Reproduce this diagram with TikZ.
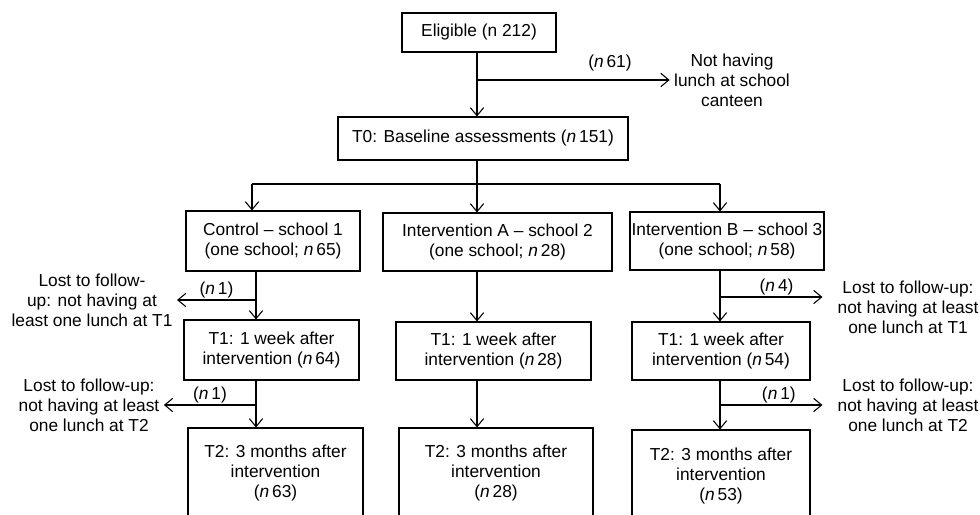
\documentclass[tikz,border=0pt]{standalone}
\usepackage{fontspec}
\setmainfont{Liberation Sans}
\usetikzlibrary{arrows.meta}
\tikzset{
  stage/.style={draw, align=center, inner sep=0pt},
  lost/.style={align=center, inner sep=3pt},
  nlab/.style={inner sep=1pt, above},
  right lost/.style={->, shorten >=8pt}
}
\newcommand{\nval}[1]{(\textit{n}\,#1)}

\begin{document}
\begin{tikzpicture}[x=0.75pt, y=-0.75pt, line width=0.8pt,
  >={Straight Barb[length=6pt,width=10pt]},
  font=\fontsize{13}{15}\selectfont]
\clip (0,0) rectangle (980,514);

\node[stage, minimum width=115.5pt, minimum height=29.25pt] (elig) at (479,32.5) {Eligible (n 212)};
\node[stage, minimum width=217.5pt, minimum height=32.25pt] (t0) at (483,138.5) {T0: Baseline assessments \nval{151}};
\node[lost] (nolunch) at (732,80) {Not having\\lunch at school\\canteen};

\node[stage, minimum width=130.5pt, minimum height=45pt] (ctrl) at (273,241) {Control -- school 1\\(one school; \textit{n}\,65)};
\node[stage, minimum width=171.75pt, minimum height=43.5pt] (intA) at (497.5,242) {Intervention A -- school 2\\(one school; \textit{n}\,28)};
\node[stage, minimum width=145.5pt, minimum height=43.5pt] (intB) at (727,241) {Intervention B -- school 3\\(one school; \textit{n}\,58)};

\node[stage, minimum width=131.25pt, minimum height=45pt] (ctrl1) at (271.5,350) {T1: 1 week after\\intervention \nval{64}};
\node[stage, minimum width=146.25pt, minimum height=43.5pt] (intA1) at (493.5,351) {T1: 1 week after\\intervention \nval{28}};
\node[stage, minimum width=133.5pt, minimum height=43.5pt] (intB1) at (721,351) {T1: 1 week after\\intervention \nval{54}};

\node[stage, minimum width=131.25pt, minimum height=67.5pt] (ctrl2) at (275.5,473) {T2: 3 months after\\intervention\\\nval{63}};
\node[stage, minimum width=145.5pt, minimum height=67.5pt] (intA2) at (496,473) {T2: 3 months after\\intervention\\\nval{28}};
\node[stage, minimum width=133.5pt, minimum height=69pt] (intB2) at (721,476) {T2: 3 months after\\intervention\\\nval{53}};

\node[lost] (lostC1) at (92,300) {Lost to follow-\\up: not having at\\least one lunch at T1};
\node[lost] (lostC2) at (89,405) {Lost to follow-up:\\not having at least\\one lunch at T2};
\node[lost] (lostB1) at (908,307) {Lost to follow-up:\\not having at least\\one lunch at T1};
\node[lost] (lostB2) at (908,405) {Lost to follow-up:\\not having at least\\one lunch at T2};

\coordinate (c0) at (477,0);
\coordinate (c1) at (252,0);
\coordinate (c1b) at (256,0);
\coordinate (c3) at (720,0);
\coordinate (fork) at (0,184);
\coordinate (splitB) at (720,297);

\draw [->] (elig.south -| c0) -- (t0.north -| c0);
\draw [->] (c0 |- nolunch) -- (nolunch) node[nlab, pos=0.69, yshift=5pt] {\nval{61}};

\draw (t0.south -| c0) -- (c0 |- fork);
\draw (c1 |- fork) -- (c3 |- fork);
\draw [->] (c1 |- fork) -- (ctrl.north -| c1);
\draw [->] (c0 |- fork) -- (intA.north -| c0);
\draw [->] (c3 |- fork) -- (intB.north -| c3);

\draw [->] (ctrl.south -| c1b) -- (ctrl1.north -| c1b);
\draw [->] (ctrl1.south -| c1b) -- (ctrl2.north -| c1b);
\draw [->] (c1b |- lostC1) -- (lostC1) node[nlab, pos=0.5] {\nval{1}};
\draw [->] (c1b |- lostC2) -- (lostC2) node[nlab, pos=0.5] {\nval{1}};

\draw [->] (intA.south -| c0) -- (intA1.north -| c0);
\draw [->] (intA1.south -| c0) -- (intA2.north -| c0);

\draw [->] (intB.south -| c3) -- (intB1.north -| c3);
\draw [->] (intB1.south -| c3) -- (intB2.north -| c3);
\draw [right lost] (splitB) -- (splitB -| lostB1.west) node[nlab, pos=0.5] {\nval{4}};
\draw [right lost] (c3 |- lostB2) -- (lostB2) node[nlab, pos=0.52] {\nval{1}};
\end{tikzpicture}
\end{document}
